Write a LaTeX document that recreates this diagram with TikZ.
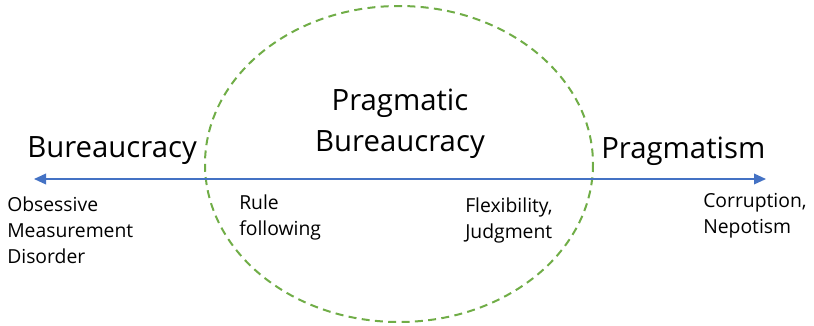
\documentclass[tikz,border=0pt]{standalone}
\usepackage{fontspec}
\setmainfont{Open Sans}
\usetikzlibrary{arrows.meta}
\definecolor{axisblue}{RGB}{68,114,196}
\definecolor{zonegreen}{RGB}{112,173,71}
\begin{document}
\begin{tikzpicture}[x=0.75pt,y=0.75pt,yscale=-1,xscale=1,
	bigtext/.style={inner sep=0.75pt, font=\fontsize{22}{31}\selectfont, align=center},
	smalltext/.style={anchor=north west, inner sep=0.75pt, font=\fontsize{14.5}{19.5}\selectfont, align=left},
	axis/.style={draw=axisblue, line width=1.1pt, {Triangle[length=9pt,width=8pt]}-{Triangle[length=9pt,width=8pt]}},
	zone/.style={draw=zonegreen, line width=1.5pt, dash pattern=on 6pt off 4pt}]
			\useasboundingbox (0,0) rectangle (814,325); %set diagram size 814 x 325
			
			%Ellipse: middle zone
			\draw [zone] (399,164) ellipse [x radius=194, y radius=158];
			
			%Straight Lines: axis
			\coordinate (axisL) at (34,179);
			\coordinate (axisR) at (766,179);
			\draw [axis] (axisL) -- (axisR);
			
			% Text Node
			\node (bureau) [bigtext, anchor=west] at (26,151) {Bureaucracy};
			% Text Node
			\node (pragbureau) [bigtext] at (400,124) {Pragmatic\\Bureaucracy};
			% Text Node
			\node (pragmatism) [bigtext, anchor=west] at (600,151) {Pragmatism};
			% Text Node
			\node (omd) [smalltext] at (6,196) {Obsessive\\Measurement\\Disorder};
			% Text Node
			\node (rule) [smalltext] at (238,194) {Rule\\following};
			% Text Node
			\node (flex) [smalltext] at (464,197) {Flexibility,\\Judgment};
			% Text Node
			\node (corrupt) [smalltext] at (702,192) {Corruption,\\Nepotism};
		\end{tikzpicture}
\end{document}
